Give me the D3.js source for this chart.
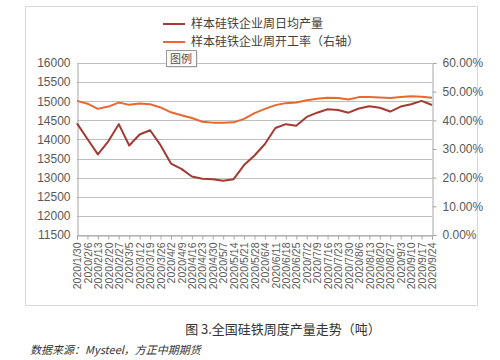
<!DOCTYPE html>
<html>
<head>
<meta charset="utf-8">
<script src="https://cdn.jsdelivr.net/npm/d3@7"></script>
<style>
  body { margin: 0; background: #fff; }
  svg { display: block; font-family: "Noto Sans CJK SC", "Liberation Sans", sans-serif; }
</style>
</head>
<body>
<div id="chart"></div>
<script>
// weekly dates
var dates = ["2020/1/30","2020/2/6","2020/2/13","2020/2/20","2020/2/27","2020/3/5","2020/3/12",
  "2020/3/19","2020/3/26","2020/4/2","2020/4/9","2020/4/16","2020/4/23","2020/4/30","2020/5/7",
  "2020/5/14","2020/5/21","2020/5/28","2020/6/4","2020/6/11","2020/6/18","2020/6/25","2020/7/2",
  "2020/7/9","2020/7/16","2020/7/23","2020/7/30","2020/8/6","2020/8/13","2020/8/20","2020/8/27",
  "2020/9/3","2020/9/10","2020/9/17","2020/9/24"];

// 样本硅铁企业周日均产量 (吨)
var output = [14420,14010,13610,13950,14400,13840,14130,14240,13850,13370,13230,13030,12970,12960,
  12920,12960,13330,13580,13880,14300,14400,14360,14590,14700,14790,14770,14700,14810,14870,14830,
  14730,14860,14920,15010,14900];

// 样本硅铁企业周开工率 (%)
var rate = [46.8,45.8,44.0,44.8,46.2,45.4,45.9,45.6,44.5,42.8,41.8,40.8,39.5,39.2,39.2,39.3,40.5,
  42.5,44.0,45.3,46.0,46.2,47.0,47.5,47.9,47.8,47.3,48.1,48.1,48.0,47.8,48.1,48.4,48.2,47.9];

var leftTicks = [11500,12000,12500,13000,13500,14000,14500,15000,15500,16000];
var rightTicks = [0,10,20,30,40,50,60];
var seriesNames = ["样本硅铁企业周日均产量", "样本硅铁企业周开工率（右轴）"];
var colors = ["#A33A33", "#E8682E"];

var W = 500, H = 360;
var svg = d3.select("#chart").append("svg")
  .attr("width", W)
  .attr("height", H);

// outer frame of the excel chart
svg.append("rect")
  .attr("x", 25.5).attr("y", 6.5)
  .attr("width", 452).attr("height", 299)
  .attr("fill", "#fff")
  .attr("stroke", "#d9d9d9");

var pLeft = 77, pRight = 432, pTop = 63, pBottom = 235;

var x = d3.scalePoint().domain(dates).range([pLeft, pRight]);
var y = d3.scaleLinear().domain([11500, 16000]).range([pBottom, pTop]);
var y2 = d3.scaleLinear().domain([0, 60]).range([pBottom, pTop]);

// gridlines
svg.append("g")
  .selectAll("line")
  .data(leftTicks)
  .enter()
  .append("line")
    .attr("x1", pLeft).attr("x2", pRight)
    .attr("y1", function(d) { return Math.round(y(d)) + 0.5; })
    .attr("y2", function(d) { return Math.round(y(d)) + 0.5; })
    .attr("stroke", "#bfbfbf");

// left axis
var gl = svg.append("g")
  .attr("transform", "translate(" + (pLeft + 0.5) + ",0)")
  .call(d3.axisLeft(y).tickValues(leftTicks).tickSize(0).tickPadding(7)
    .tickFormat(d3.format("d")));
gl.select(".domain").attr("stroke", "#a6a6a6");
gl.selectAll("text").attr("font-size", 12).attr("fill", "#595959")
  .attr("font-family", "Liberation Sans, sans-serif");

// right axis
var gr = svg.append("g")
  .attr("transform", "translate(" + (pRight + 0.5) + ",0)")
  .call(d3.axisRight(y2).tickValues(rightTicks).tickSize(4).tickPadding(6)
    .tickFormat(function(d) { return d.toFixed(2) + "%"; }));
gr.select(".domain").attr("stroke", "#a6a6a6");
gr.selectAll("line").attr("stroke", "#a6a6a6");
gr.selectAll("text").attr("font-size", 12).attr("fill", "#595959")
  .attr("font-family", "Liberation Sans, sans-serif");

// bottom axis
var gb = svg.append("g")
  .attr("transform", "translate(0," + (pBottom + 0.5) + ")")
  .call(d3.axisBottom(x).tickSize(4).tickPadding(3));
gb.select(".domain").attr("stroke", "#a6a6a6");
gb.selectAll("line").attr("stroke", "#a6a6a6");
gb.selectAll("text")
  .attr("font-size", 10.5).attr("fill", "#595959")
  .attr("font-family", "Liberation Sans, sans-serif")
  .attr("text-anchor", "end")
  .attr("dy", "0.35em")
  .attr("transform", "translate(0,3) rotate(-90)")
  .attr("x", -4).attr("y", 0);

// lines
var lineL = d3.line()
  .x(function(d, i) { return x(dates[i]); })
  .y(function(d) { return y(d); });
var lineR = d3.line()
  .x(function(d, i) { return x(dates[i]); })
  .y(function(d) { return y2(d); });

svg.append("path")
  .datum(rate)
  .attr("d", lineR)
  .attr("fill", "none")
  .attr("stroke", colors[1])
  .attr("stroke-width", 2)
  .attr("stroke-linejoin", "round");

svg.append("path")
  .datum(output)
  .attr("d", lineL)
  .attr("fill", "none")
  .attr("stroke", colors[0])
  .attr("stroke-width", 2)
  .attr("stroke-linejoin", "round");

// legend
var lg = svg.selectAll(".leg")
  .data(seriesNames)
  .enter()
  .append("g")
    .attr("class", "leg")
    .attr("transform", function(d, i) { return "translate(163," + (24 + i * 18) + ")"; });
lg.append("line")
  .attr("x1", 0).attr("x2", 22)
  .attr("stroke", function(d, i) { return colors[i]; })
  .attr("stroke-width", 2);
lg.append("text")
  .attr("x", 28).attr("dy", "0.35em")
  .attr("font-size", 12).attr("fill", "#404040")
  .text(function(d) { return d; });

// "图例" tooltip box
var tip = svg.append("g").attr("transform", "translate(166,50)");
tip.append("rect")
  .attr("x", 1.5).attr("y", 1.5).attr("width", 30).attr("height", 16)
  .attr("fill", "#cfcfcf");
tip.append("rect")
  .attr("x", 0.5).attr("y", 0.5).attr("width", 30).attr("height", 16)
  .attr("fill", "#fafafa").attr("stroke", "#9a9a9a");
tip.append("text")
  .attr("x", 15).attr("y", 12.5)
  .attr("text-anchor", "middle")
  .attr("font-size", 11).attr("fill", "#505050")
  .text("图例");

// caption
svg.append("text")
  .attr("x", 283).attr("y", 334)
  .attr("text-anchor", "middle")
  .attr("font-size", 13).attr("fill", "#333")
  .text("图 3.全国硅铁周度产量走势（吨）");

svg.append("text")
  .attr("x", 30).attr("y", 354)
  .attr("font-size", 11).attr("fill", "#333")
  .attr("font-style", "italic")
  .text("数据来源：Mysteel，方正中期期货");
</script>
</body>
</html>
